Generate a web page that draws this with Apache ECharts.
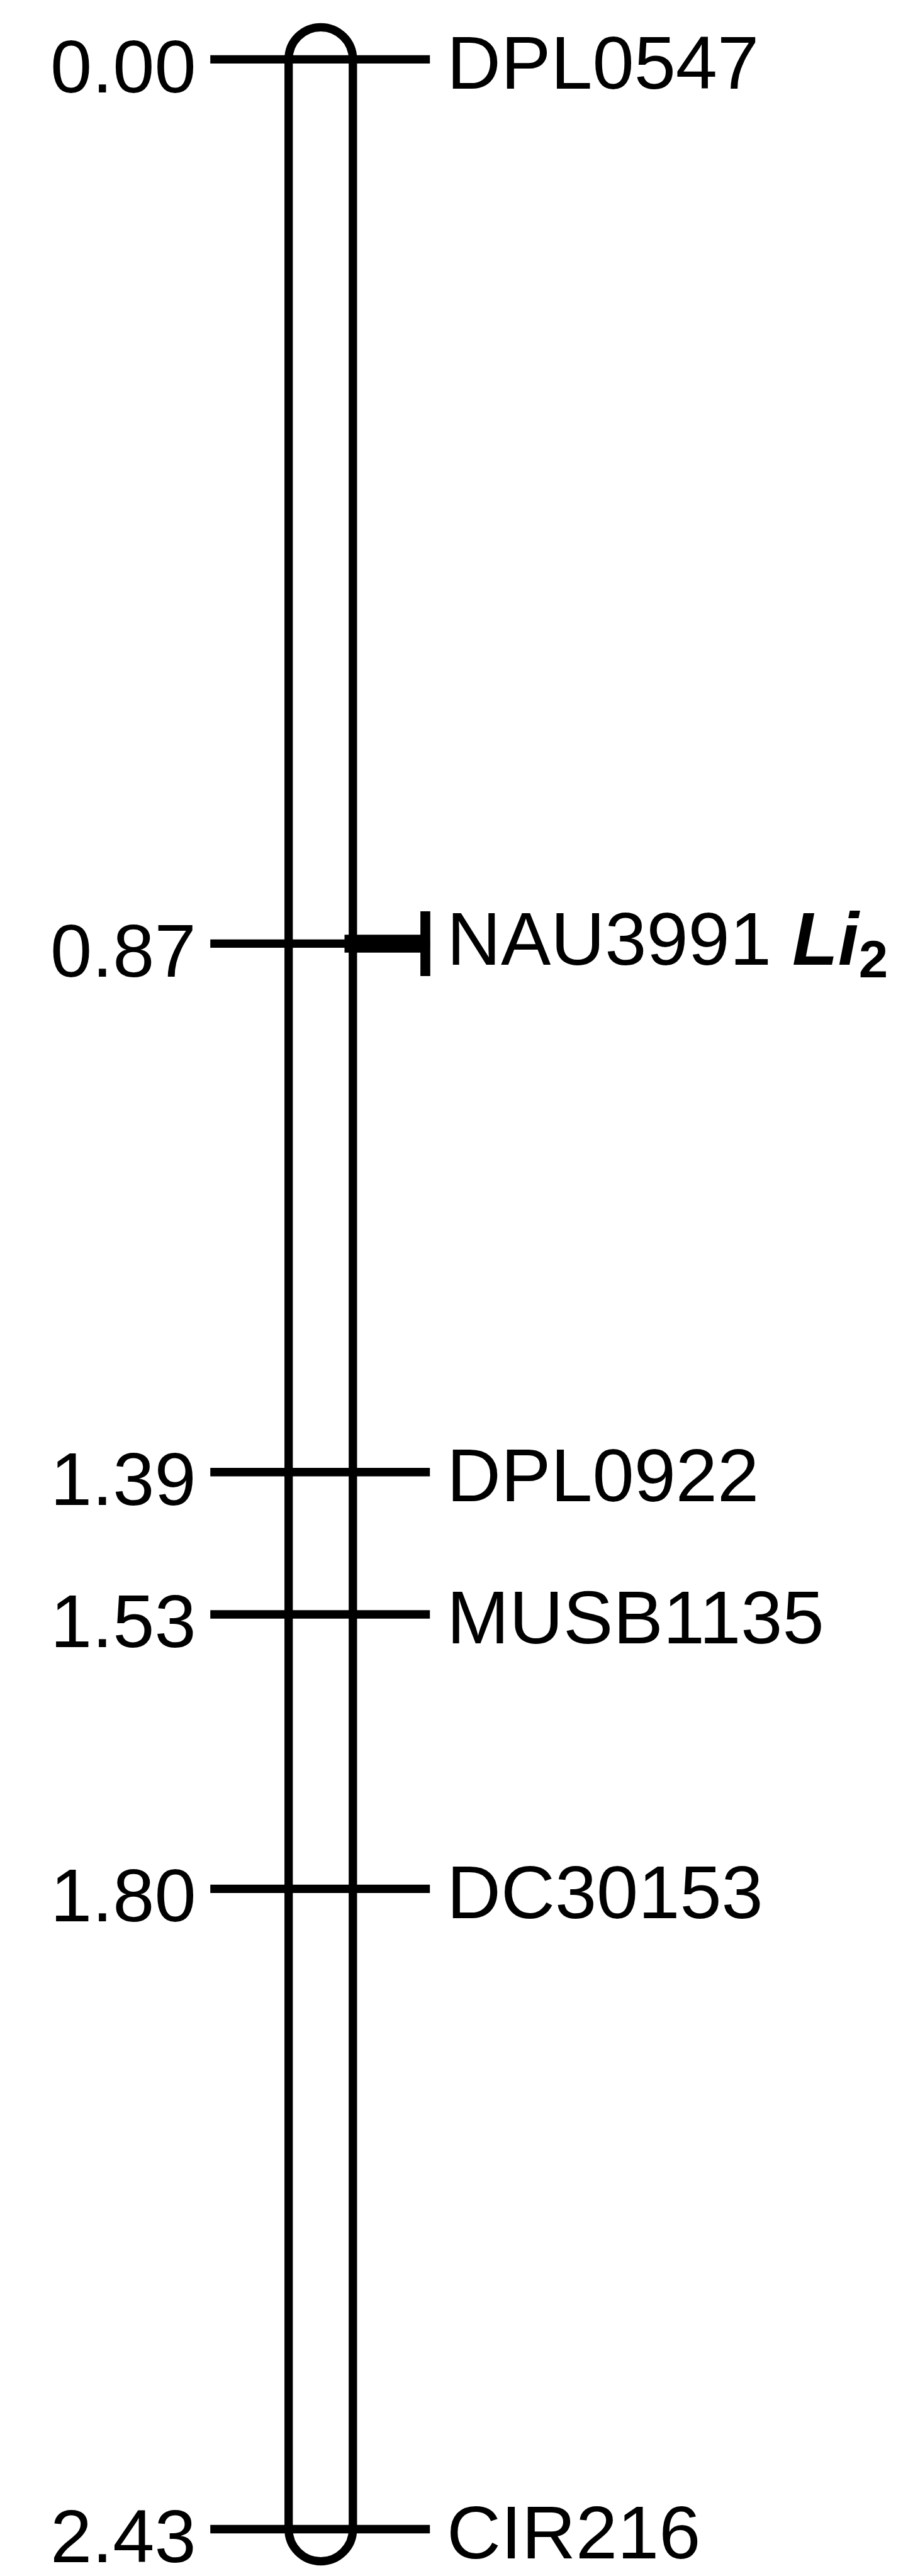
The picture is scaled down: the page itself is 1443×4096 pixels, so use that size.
<!DOCTYPE html>
<html>
<head>
<meta charset="utf-8">
<script src="https://cdn.jsdelivr.net/npm/echarts@6/dist/echarts.min.js"></script>
<style>
html,body{margin:0;padding:0;background:#fff;}
#chart{width:1443px;height:4096px;}
</style>
</head>
<body>
<div id="chart"></div>
<script>
// ---- data ----
const positions = [0.00, 0.87, 1.39, 1.53, 1.80, 2.43];
const positionLabels = ['0.00', '0.87', '1.39', '1.53', '1.80', '2.43'];
const markers = ['DPL0547', 'NAU3991', 'DPL0922', 'MUSB1135', 'DC30153', 'CIR216'];
const chromosomeRange = [0.00, 2.43];
const geneMarker = 'NAU3991';
const geneName = 'Li';
const geneSub = '2';

// ---- layout / style ----
const FONT = '"Liberation Sans", Arial, sans-serif';
const FS = 119;
const SUB_FS = 83.5;
const LW = 13.3;
const chromL = 458.7, chromR = 560.8;
const tickL = 334.2, tickR = 683.2;
const leftTextX = 311.6, rightTextX = 710;

const measure = (txt, font) => {
  const c = document.createElement('canvas').getContext('2d');
  c.font = font;
  return c.measureText(txt).width;
};

const chart = echarts.init(document.getElementById('chart'), null, {renderer: 'canvas'});

const markerData = positions.map((p, i) => [0, p, i]);

chart.setOption({
  backgroundColor: '#fff',
  animation: false,
  grid: {left: 0, right: 0, top: 94.4, bottom: 74.5},
  xAxis: {type: 'value', min: 0, max: 1, show: false},
  yAxis: {type: 'value', inverse: true, min: 0, max: 2.43, show: false},
  series: [
    {
      type: 'custom',
      silent: true,
      data: [[0, chromosomeRange[0], chromosomeRange[1]]],
      renderItem: function (params, api) {
        const y0 = api.coord([0, api.value(1)])[1];
        const y1 = api.coord([0, api.value(2)])[1];
        const w = chromR - chromL;
        const r = w / 2;
        return {
          type: 'rect',
          shape: {x: chromL, y: y0 - r, width: w, height: (y1 - y0) + 2 * r, r: r},
          style: {fill: null, stroke: '#000', lineWidth: LW}
        };
      }
    },
    {
      type: 'custom',
      silent: true,
      data: markerData,
      renderItem: function (params, api) {
        const idx = api.value(2);
        const y = api.coord([0, api.value(1)])[1];
        const name = markers[idx];
        const children = [
          {
            type: 'line',
            shape: {x1: tickL, y1: y, x2: tickR, y2: y},
            style: {stroke: '#000', lineWidth: LW, lineCap: 'butt'}
          },
          {
            type: 'text',
            style: {
              x: leftTextX, y: y + 19.3, text: positionLabels[idx],
              font: FS + 'px ' + FONT, fill: '#000', align: 'right', verticalAlign: 'middle'
            }
          }
        ];
        if (name === geneMarker) {
          children.push({
            type: 'rect',
            shape: {x: 547.5, y: y - 14.25, width: 124, height: 28.5},
            style: {fill: '#000'}
          });
          children.push({
            type: 'rect',
            shape: {x: 668.1, y: y - 51.5, width: 15.7, height: 103},
            style: {fill: '#000'}
          });
          const mainFont = FS + 'px ' + FONT;
          const geneFont = 'italic bold ' + FS + 'px ' + FONT;
          const w1 = measure(name + ' ', mainFont);
          const w2 = measure(geneName, geneFont);
          children.push({
            type: 'text',
            style: {x: rightTextX, y: y + 1.1, text: name, font: mainFont,
              fill: '#000', align: 'left', verticalAlign: 'middle'}
          });
          children.push({
            type: 'text',
            style: {x: rightTextX + w1, y: y + 1.1, text: geneName, font: geneFont,
              fill: '#000', align: 'left', verticalAlign: 'middle'}
          });
          children.push({
            type: 'text',
            style: {x: rightTextX + w1 + w2, y: y + 31, text: geneSub,
              font: 'bold ' + SUB_FS + 'px ' + FONT,
              fill: '#000', align: 'left', verticalAlign: 'middle'}
          });
        } else {
          children.push({
            type: 'text',
            style: {x: rightTextX, y: y + 13.4, text: name, font: FS + 'px ' + FONT,
              fill: '#000', align: 'left', verticalAlign: 'middle'}
          });
        }
        return {type: 'group', children: children};
      }
    }
  ]
});
</script>
</body>
</html>
